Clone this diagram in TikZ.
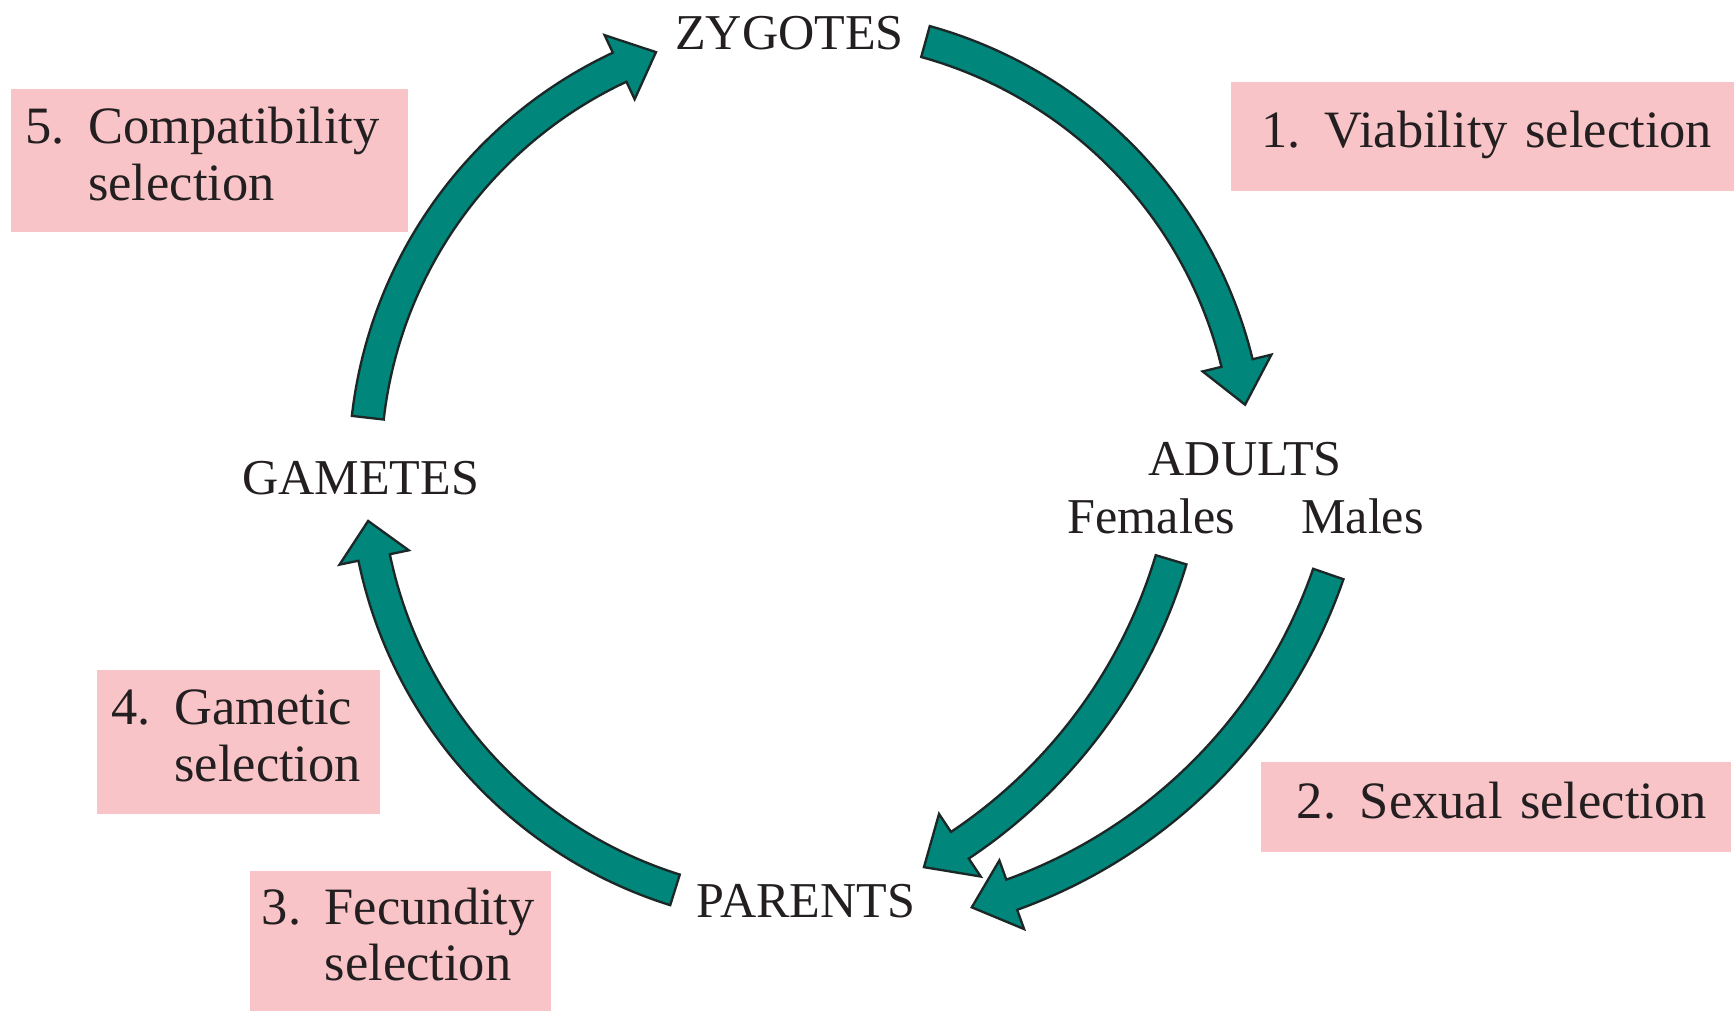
\documentclass[tikz,border=0pt]{standalone}
\usepackage{fontspec}
\setmainfont{Liberation Serif}
\definecolor{cycleteal}{RGB}{0,134,122}
\definecolor{selpink}{RGB}{248,196,200}
\definecolor{edgedark}{RGB}{28,40,40}
\definecolor{inkgray}{RGB}{35,31,32}

% block arrow along a circle: centre, radius, tail angle, head-base angle, tip angle, head half width
\newcommand{\blockarc}[6]{%
  \draw[blockarrow, shift={#1}] ({#3}:{#2+14.5}) arc[start angle=#3, end angle=#4, radius={#2+14.5}]
    -- ({#4}:{#2+#6}) -- ({#5}:{#2}) -- ({#4}:{#2-#6}) -- ({#4}:{#2-14.5})
    arc[start angle=#4, end angle=#3, radius={#2-14.5}] -- cycle;}
\newcommand{\selitem}[2]{\begin{tabular}{@{}l@{\hspace{0.45em}}l@{}}#1 & #2\end{tabular}}

\begin{document}
\begin{tikzpicture}[x=0.01cm, y=0.01cm,
        stage/.style={font=\fontsize{12.9}{14.5}\selectfont, text=inkgray, inner sep=0pt},
        selbox/.style={fill=selpink, anchor=north west, inner ysep=0pt, align=left,
                   font=\fontsize{13.5}{14.5}\selectfont, text=inkgray},
        blockarrow/.style={fill=cycleteal, draw=edgedark, line width=0.6pt, line join=miter}
    ]
    \useasboundingbox (0,0) rectangle (1568,914);
    \fill[white] (0,0) rectangle (1568,914);

    % selection boxes
    \node[selbox, minimum width=3.59cm, minimum height=1.29cm, inner xsep=0.13cm, text width=3.33cm] (compat) at (9,834) {\selitem{5.}{Compatibility\\ & selection}};
    \node[selbox, minimum width=4.56cm, minimum height=0.99cm, inner xsep=0.28cm, text width=4.0cm] (viab) at (1112,841) {\selitem{1.}{Viability selection}};
    \node[selbox, minimum width=2.56cm, minimum height=1.30cm, inner xsep=0.13cm, text width=2.30cm] (gametic) at (87,309) {\selitem{4.}{Gametic\\ & selection}};
    \node[selbox, minimum width=2.72cm, minimum height=1.27cm, inner xsep=0.11cm, text width=2.50cm] (fecund) at (225,127) {\selitem{3.}{Fecundity\\ & selection}};
    \node[selbox, minimum width=4.24cm, minimum height=0.82cm, inner xsep=0.32cm, text width=3.60cm] (sexual) at (1140,226) {\selitem{2.}{Sexual selection}};

    % life stages
    \node[stage] (zyg) at (714,884) {ZYGOTES};
    \node[stage] (gam) at (326,482) {GAMETES};
    \node[stage] (adu) at (1126,499) {ADULTS};
    \node[stage] (fem) at (1041,447) {Females};
    \node[stage] (mal) at (1232,447) {Males};
    \node[stage] (par) at (729,99) {PARENTS};

    % arrows
    \coordinate (hub) at (730,491);
    \coordinate (femhub) at (605,544);
    \coordinate (malhub) at (755,549);
    \blockarc{(hub)}{400}{74.5}{13.7}{8.2}{32}
    \blockarc{(hub)}{400}{173.5}{115.1}{110}{32}
    \blockarc{(hub)}{400}{252.6}{191.7}{186.9}{32}
    \blockarc{(malhub)}{472}{-19.05}{-70.2}{-74.8}{33}
    \blockarc{(femhub)}{474}{-16.7}{-56.3}{-60.9}{34}
\end{tikzpicture}
\end{document}
